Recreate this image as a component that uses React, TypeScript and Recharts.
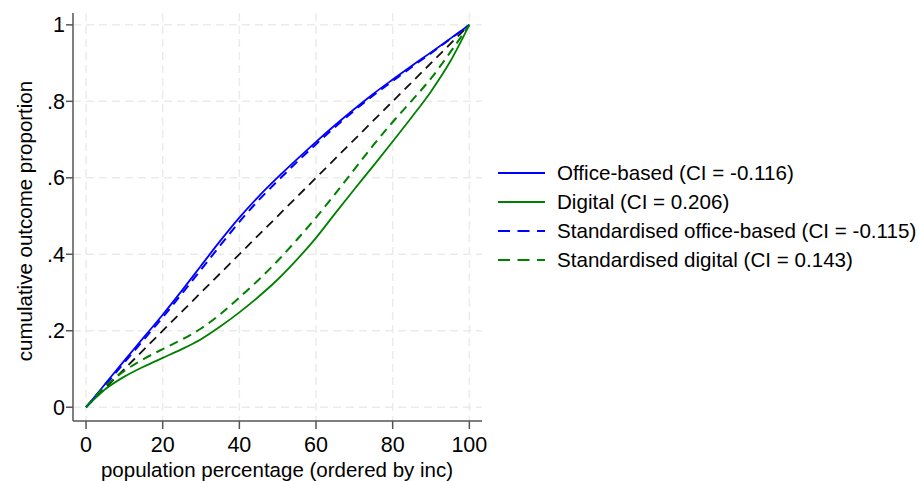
import React from 'react';
import { LineChart, Line, XAxis, YAxis, CartesianGrid } from 'recharts';

// population percentage (ordered by income)
const popPct = [0, 5, 10, 15, 20, 25, 30, 35, 40, 45, 50, 55, 60, 65, 70, 75, 80, 85, 90, 95, 100];
// cumulative outcome proportion per series
const officeBased = [0, 0.061, 0.122, 0.182, 0.242, 0.305, 0.37, 0.435, 0.496, 0.551, 0.601, 0.648, 0.694, 0.738, 0.78, 0.82, 0.857, 0.893, 0.928, 0.964, 1];
const digital = [0, 0.047, 0.08, 0.106, 0.129, 0.152, 0.178, 0.211, 0.248, 0.289, 0.334, 0.386, 0.443, 0.507, 0.57, 0.632, 0.695, 0.759, 0.826, 0.904, 1];
const stdOfficeBased = [0, 0.058, 0.117, 0.176, 0.235, 0.297, 0.36, 0.423, 0.485, 0.541, 0.592, 0.641, 0.688, 0.733, 0.776, 0.816, 0.853, 0.89, 0.926, 0.963, 1];
const stdDigital = [0, 0.055, 0.095, 0.126, 0.152, 0.177, 0.206, 0.243, 0.287, 0.333, 0.383, 0.438, 0.496, 0.558, 0.622, 0.686, 0.746, 0.802, 0.86, 0.928, 1];
// line of equality
const equalityX = [0, 100];
const equalityY = [0, 1];

const xTicks = [0, 20, 40, 60, 80, 100];
const yTicks = [0, 0.2, 0.4, 0.6, 0.8, 1];
const yTickLabels = ['0', '.2', '.4', '.6', '.8', '1'];

const seriesKeys = ['officeBased', 'digital', 'stdOfficeBased', 'stdDigital'];
const legendLabels = [
  'Office-based (CI = -0.116)',
  'Digital (CI = 0.206)',
  'Standardised office-based (CI = -0.115)',
  'Standardised digital (CI = 0.143)',
];
const seriesColors = ['#0000ff', '#008000', '#0000ff', '#008000'];
const seriesDash = [undefined, undefined, '9 6', '9 6'];

const xTitle = 'population percentage (ordered by inc)';
const yTitle = 'cumulative outcome proportion';

const rows = popPct.map((x, i) => ({
  x,
  officeBased: officeBased[i],
  digital: digital[i],
  stdOfficeBased: stdOfficeBased[i],
  stdDigital: stdDigital[i],
}));
const equalityRows = equalityX.map((x, i) => ({ x, eq: equalityY[i] }));

const FONT = '"Liberation Sans", Arial, Helvetica, sans-serif';
const AXIS = '#555555';

export default function App() {
  return (
    <div style={{ position: 'absolute', left: 0, top: 0, width: 919, height: 481, background: '#fff', fontFamily: FONT }}>
      <LineChart width={919} height={481} data={rows} margin={{ top: 13, right: 437, bottom: 0, left: 0 }}>
        <CartesianGrid stroke="#ebebeb" strokeWidth={1.5} strokeDasharray="8 5" horizontalValues={yTicks} verticalValues={xTicks} />
        <XAxis
          type="number"
          dataKey="x"
          domain={[-3.4, 103.3]}
          ticks={xTicks}
          height={60}
          tickSize={8}
          tickMargin={8}
          stroke={AXIS}
          strokeWidth={1.5}
          tick={{ fontSize: 21.5, fill: '#000', fontFamily: FONT }}
          allowDataOverflow
        />
        <YAxis
          type="number"
          domain={[-0.036, 1.031]}
          ticks={yTicks}
          width={73}
          tickSize={7}
          tickMargin={1}
          stroke={AXIS}
          strokeWidth={1.5}
          tickFormatter={(v: number) => yTickLabels[yTicks.indexOf(v)] ?? String(v)}
          tick={{ fontSize: 21.5, fill: '#000', fontFamily: FONT }}
          allowDataOverflow
        />
        <Line
          data={equalityRows}
          dataKey="eq"
          type="linear"
          stroke="#111"
          strokeWidth={1.8}
          strokeDasharray="9 6"
          dot={false}
          isAnimationActive={false}
          legendType="none"
        />
        {seriesKeys.map((k, i) => (
          <Line
            key={k}
            dataKey={k}
            type="monotone"
            stroke={seriesColors[i]}
            strokeWidth={seriesDash[i] ? 2 : 1.8}
            strokeDasharray={seriesDash[i]}
            dot={false}
            isAnimationActive={false}
          />
        ))}
      </LineChart>
      <svg width={919} height={481} style={{ position: 'absolute', left: 0, top: 0, pointerEvents: 'none' }}>
        <text x={277} y={477} textAnchor="middle" fontSize={20.5} fontFamily={FONT} fill="#000">
          {xTitle}
        </text>
        <text x={31.5} y={221} transform="rotate(-90, 31.5, 221)" textAnchor="middle" fontSize={20.5} fontFamily={FONT} fill="#000">
          {yTitle}
        </text>
      </svg>
      <div style={{ position: 'absolute', left: 498, top: 158.5, width: 421 }}>
        {legendLabels.map((lab, i) => (
          <div key={lab} style={{ display: 'flex', alignItems: 'center', height: 28.9 }}>
            <svg width={47} height={6} style={{ display: 'block', flex: 'none' }}>
              <line x1={0} y1={3} x2={47} y2={3} stroke={seriesColors[i]} strokeWidth={1.8} strokeDasharray={seriesDash[i] ? '12 7.5' : undefined} />
            </svg>
            <span style={{ marginLeft: 12, fontSize: 20.6, color: '#000', whiteSpace: 'nowrap', lineHeight: '21px' }}>{lab}</span>
          </div>
        ))}
      </div>
    </div>
  );
}
